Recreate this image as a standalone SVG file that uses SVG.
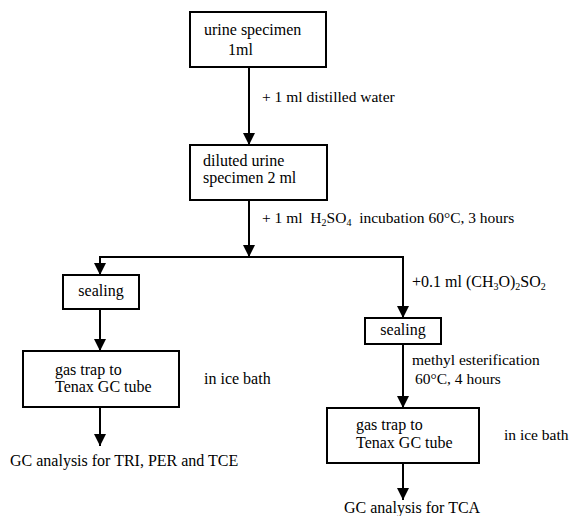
<svg xmlns="http://www.w3.org/2000/svg" width="574" height="516" viewBox="0 0 574 516">
<defs>
<marker id="ah" markerUnits="userSpaceOnUse" markerWidth="14" markerHeight="14" refX="12" refY="6" orient="auto">
<path d="M0,0 L12,6 L0,12 Z" fill="#000"/>
</marker>
<style>
.box{fill:#fff;stroke:#000;stroke-width:2}
.t{font-family:"Liberation Serif",serif;font-size:16px;fill:#000}
.l{font-family:"Liberation Serif",serif;font-size:15.5px;fill:#000}
.c{fill:none;stroke:#000;stroke-width:2}
.sub{font-size:10px}
</style>
</defs>
<rect width="574" height="516" fill="#fff"/>
<g id="connectors">
<line class="c" x1="249" y1="67" x2="249" y2="145" marker-end="url(#ah)"/>
<line class="c" x1="249" y1="200" x2="249" y2="257" marker-end="url(#ah)"/>
<polyline class="c" points="100,275 100,257 403,257 403,318" marker-end="url(#ah)"/>
<line class="c" x1="100" y1="257" x2="100" y2="275" marker-end="url(#ah)"/>
<line class="c" x1="100" y1="309" x2="100" y2="351" marker-end="url(#ah)"/>
<line class="c" x1="100" y1="407" x2="100" y2="446" marker-end="url(#ah)"/>
<line class="c" x1="403" y1="344" x2="403" y2="408" marker-end="url(#ah)"/>
<line class="c" x1="403" y1="463" x2="403" y2="500" marker-end="url(#ah)"/>
<text class="l" x="262" y="102">+ 1 ml distilled water</text>
<text class="l" x="262" y="223" xml:space="preserve">+ 1 ml  H<tspan class="sub" dy="3">2</tspan><tspan dy="-3">SO</tspan><tspan class="sub" dy="3">4</tspan><tspan dy="-3">  incubation 60°C, 3 hours</tspan></text>
<text class="t" x="412" y="287">+0.1 ml (CH<tspan class="sub" dy="3">3</tspan><tspan dy="-3">O)</tspan><tspan class="sub" dy="3">2</tspan><tspan dy="-3">SO</tspan><tspan class="sub" dy="3">2</tspan></text>
<text class="l" x="412" y="365">methyl esterification</text>
<text class="l" x="415" y="384">60°C, 4 hours</text>
</g>
<g id="urine">
<rect class="box" x="190" y="12" width="136" height="55"/>
<text class="t" x="204" y="35">urine specimen</text>
<text class="t" x="228" y="55">1ml</text>
</g>
<g id="diluted">
<rect class="box" x="190" y="145" width="137" height="55"/>
<text class="t" x="203" y="166">diluted urine</text>
<text class="t" x="203" y="183">specimen 2 ml</text>
</g>
<g id="sealing-left">
<rect class="box" x="63" y="275" width="76" height="34"/>
<text class="t" x="101" y="296" text-anchor="middle">sealing</text>
</g>
<g id="trap-left">
<rect class="box" x="23" y="351" width="156" height="56"/>
<text class="t" x="55" y="375">gas trap to</text>
<text class="t" x="55" y="392">Tenax GC tube</text>
<text class="t" x="204" y="384">in ice bath</text>
</g>
<g id="result-left">
<text class="t" x="10" y="466">GC analysis for TRI, PER and TCE</text>
</g>
<g id="sealing-right">
<rect class="box" x="365" y="318" width="76" height="26"/>
<text class="t" x="403" y="335" text-anchor="middle">sealing</text>
</g>
<g id="trap-right">
<rect class="box" x="327" y="408" width="152" height="55"/>
<text class="t" x="356" y="430">gas trap to</text>
<text class="t" x="356" y="448">Tenax GC tube</text>
<text class="l" x="504" y="440">in ice bath</text>
</g>
<g id="result-right">
<text class="t" x="344" y="513">GC analysis for TCA</text>
</g>
</svg>
